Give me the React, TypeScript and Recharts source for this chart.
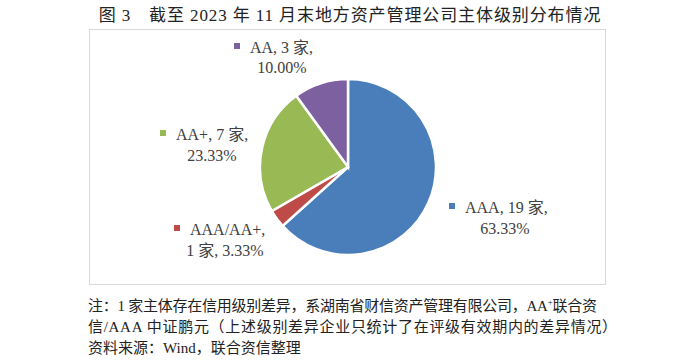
import React from 'react';
import { PieChart, Pie, Cell } from 'recharts';

const categories = ['AAA', 'AAA/AA+', 'AA+', 'AA'];
const counts = [19, 1, 7, 3];
const percentLabels = ['63.33%', '3.33%', '23.33%', '10.00%'];
const colors = ['#4A7EBB', '#BE4B48', '#98B954', '#7D60A0'];

const title = '图 3　截至 2023 年 11 月末地方资产管理公司主体级别分布情况';
const noteLines = [
  '注：1 家主体存在信用级别差异，系湖南省财信资产管理有限公司，AA',
  '信/AAA 中证鹏元（上述级别差异企业只统计了在评级有效期内的差异情况）',
  '资料来源：Wind，联合资信整理',
];

const data = categories.map((name, i) => ({ name, value: counts[i], pct: percentLabels[i] }));

// label layout relative to pie centre: line1 start, line2 centre
const labelLayout = [
  { x1: 117, y1: 40, x2: 157, y2: 61, split: false },
  { x1: -158, y1: 62, x2: -123, y2: 83, split: true },
  { x1: -172, y1: -33, x2: -136, y2: -12, split: false },
  { x1: -98, y1: -120, x2: -66, y2: -100, split: false },
];

const serif = '"Liberation Serif", "Times New Roman", "Noto Sans CJK SC", serif';

const renderLabel = (props: any) => {
  const { cx, cy, index } = props;
  const d = data[index];
  const l = labelLayout[index];
  const line1 = l.split ? `${d.name},` : `${d.name}, ${d.value} 家,`;
  const line2 = l.split ? `${d.value} 家, ${d.pct}` : d.pct;
  return (
    <g key={`lbl-${index}`}>
      <rect x={cx + l.x1 - 16} y={cy + l.y1 - 4} width={6} height={6} fill={colors[index]} />
      <text x={cx + l.x1} y={cy + l.y1} dominantBaseline="central" textAnchor="start" fontSize={16} fill="#404040" fontFamily={serif}>
        {line1}
      </text>
      <text x={cx + l.x2} y={cy + l.y2} dominantBaseline="central" textAnchor="middle" fontSize={16} fill="#404040" fontFamily={serif}>
        {line2}
      </text>
    </g>
  );
};

export default function App() {
  return (
    <div style={{ position: 'absolute', left: 0, top: 0, width: 700, height: 363, background: '#fff', fontFamily: serif }}>
      <div style={{ position: 'absolute', left: 0, top: 1, width: 700, textAlign: 'center', fontSize: 17, letterSpacing: 0.9, color: '#222', whiteSpace: 'pre' }}>
        {title}
      </div>
      <div style={{ position: 'absolute', left: 89, top: 29, width: 517, height: 256, border: '1px solid #d9d9d9', boxSizing: 'border-box' }} />
      <div style={{ position: 'absolute', left: 0, top: 0 }}>
        <PieChart width={700} height={363} margin={{ top: 0, right: 0, bottom: 0, left: 0 }}>
          <Pie
            data={data}
            dataKey="value"
            nameKey="name"
            cx={348}
            cy={167}
            outerRadius={88}
            startAngle={90}
            endAngle={-270}
            stroke="#ffffff"
            strokeWidth={2.5}
            label={renderLabel}
            labelLine={false}
            isAnimationActive={false}
          >
            {data.map((d, i) => (
              <Cell key={d.name} fill={colors[i]} />
            ))}
          </Pie>
        </PieChart>
      </div>
      <div style={{ position: 'absolute', left: 88, top: 296, fontSize: 15, lineHeight: '21px', color: '#222', whiteSpace: 'pre' }}>
        <div style={{ letterSpacing: -0.25 }}>{noteLines[0]}<sup style={{ fontSize: 9, verticalAlign: 'top', lineHeight: '12px' }}>+</sup>联合资</div>
        <div style={{ letterSpacing: 0.7 }}>{noteLines[1]}</div>
        <div>{noteLines[2]}</div>
      </div>
    </div>
  );
}
